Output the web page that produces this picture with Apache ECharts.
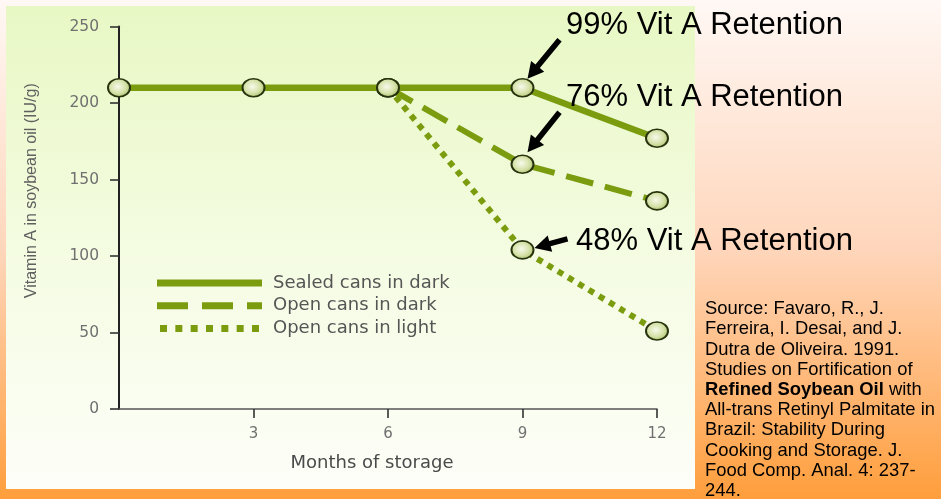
<!DOCTYPE html>
<html>
<head>
<meta charset="utf-8">
<script src="https://cdn.jsdelivr.net/npm/echarts@6/dist/echarts.min.js"></script>
<style>
html,body{margin:0;padding:0;}
#c{width:941px;height:499px;}
</style>
</head>
<body>
<div id="c"></div>
<script>
// ---- data ----
const months = [0, 3, 6, 9, 12];
const sealedDark = [210, 210, 210, 210, 177];
const openDarkMonths = [6, 9, 12];
const openDark = [210, 160, 136];
const openLightMonths = [6, 9, 12];
const openLight = [210, 104, 51];
const seriesNames = ['Sealed cans in dark', 'Open cans in dark', 'Open cans in light'];
const xTicks = [3, 6, 9, 12];
const annotations = ['99% Vit A Retention', '76% Vit A Retention', '48% Vit A Retention'];
const sourceLines = [
  'Source: Favaro, R., J.',
  'Ferreira, I. Desai, and J.',
  'Dutra de Oliveira. 1991.',
  'Studies on Fortification of',
  '{b|Refined Soybean Oil} with',
  'All-trans Retinyl Palmitate in',
  'Brazil: Stability During',
  'Cooking and Storage. J.',
  'Food Comp. Anal. 4: 237-',
  '244.'
];

const GREEN = '#7c9c10';
const markerStyle = {
  color: {
    type: 'radial', x: 0.45, y: 0.45, r: 0.6,
    colorStops: [{offset: 0, color: '#f6f9ea'}, {offset: 0.55, color: '#d6e2aa'}, {offset: 1, color: '#a9bd62'}]
  },
  borderColor: '#27330e',
  borderWidth: 1.8
};

function pairs(xs, ys) { return xs.map((x, i) => [x, ys[i]]); }

const chart = echarts.init(document.getElementById('c'), null, {renderer: 'canvas'});

const dotIcon = 'path://' + [0,1,2,3,4,5,6].map(i => 'M' + (i*15.33).toFixed(2) + ',0h7v7h-7z').join(' ');

const option = {
  animation: false,
  backgroundColor: {
    type: 'linear', x: 0, y: 0, x2: 0, y2: 1,
    colorStops: [
      {offset: 0, color: '#fff8f5'},
      {offset: 0.5, color: '#ffd6bb'},
      {offset: 1, color: '#ff9e3c'}
    ]
  },
  grid: {left: 119, right: 284, top: 26.5, bottom: 90, containLabel: false, outerBoundsMode: 'none'},
  xAxis: {
    type: 'value', min: 0, max: 12, interval: 3,
    name: 'Months of storage', nameLocation: 'middle', nameGap: 45,
    nameTextStyle: {fontFamily: 'DejaVu Sans', fontSize: 18, color: '#4a4a4a', lineHeight: 18, verticalAlign: 'top', padding: [0, 32, 0, 0]},
    axisLine: {show: true, lineStyle: {color: '#555', width: 1.6}},
    axisTick: {show: true, length: 9, customValues: xTicks, lineStyle: {color: '#333', width: 1.6}},
    axisLabel: {customValues: xTicks, margin: 18, fontFamily: 'DejaVu Sans', fontSize: 15, color: '#707070',
      formatter: v => (v === 0 ? '' : String(v))},
    splitLine: {show: false}
  },
  yAxis: {
    type: 'value', min: 0, max: 250, interval: 50,
    name: 'Vitamin A in soybean oil (IU/g)', nameLocation: 'middle', nameGap: 79, nameRotate: 90,
    nameTextStyle: {fontFamily: 'Liberation Sans', fontSize: 16, color: '#606060', padding: [0, 0, 0, 54]},
    axisLine: {show: true, lineStyle: {color: '#222', width: 2}},
    axisTick: {show: true, length: 9, lineStyle: {color: '#333', width: 1.6}},
    axisLabel: {margin: 20, fontFamily: 'DejaVu Sans', fontSize: 15.5, color: '#707070'},
    splitLine: {show: false}
  },
  legend: {
    orient: 'vertical', left: 152, top: 268,
    itemWidth: 105, itemHeight: 7, itemGap: 2.8,
    itemStyle: {color: GREEN, borderWidth: 0},
    textStyle: {fontFamily: 'DejaVu Sans', fontSize: 18, color: '#555', lineHeight: 20, padding: [0, 0, 0, 6]},
    selectedMode: false,
    data: [
      {name: seriesNames[0], icon: 'path://M0,0H105V7H0Z'},
      {name: seriesNames[1], icon: 'path://M0,0H31V7H0Z M45,0H76V7H45Z M90,0H105V7H90Z'},
      {name: seriesNames[2], icon: dotIcon}
    ]
  },
  series: [
    {
      name: seriesNames[1], type: 'line', z: 2,
      data: pairs(openDarkMonths, openDark),
      symbol: 'circle', symbolSize: [22, 18],
      lineStyle: {color: GREEN, width: 6, type: [28, 12], cap: 'butt'},
      itemStyle: markerStyle, color: GREEN
    },
    {
      name: seriesNames[2], type: 'line', z: 2,
      data: pairs(openLightMonths, openLight),
      symbol: 'circle', symbolSize: [22, 18],
      lineStyle: {color: GREEN, width: 6, type: [6, 6], cap: 'butt'},
      itemStyle: markerStyle, color: GREEN
    },
    {
      name: seriesNames[0], type: 'line', z: 3,
      data: pairs(months, sealedDark),
      symbol: 'circle', symbolSize: [22, 18],
      lineStyle: {color: GREEN, width: 6.5, type: 'solid'},
      itemStyle: markerStyle, color: GREEN
    }
  ]
};

chart.setOption(option);

function arrow(tip, tail) {
  const dx = tip[0] - tail[0], dy = tip[1] - tail[1];
  const len = Math.sqrt(dx*dx + dy*dy);
  const ux = dx/len, uy = dy/len, nx = -uy, ny = ux;
  const headLen = 16, headHalf = 8.5, shaftHalf = 2.8;
  const bx = tip[0] - ux*headLen, by = tip[1] - uy*headLen;
  const pts = [
    [tail[0] + nx*shaftHalf, tail[1] + ny*shaftHalf],
    [bx + nx*shaftHalf, by + ny*shaftHalf],
    [bx + nx*headHalf, by + ny*headHalf],
    tip,
    [bx - nx*headHalf, by - ny*headHalf],
    [bx - nx*shaftHalf, by - ny*shaftHalf],
    [tail[0] - nx*shaftHalf, tail[1] - ny*shaftHalf]
  ];
  return {type: 'polygon', z: 100, shape: {points: pts}, style: {fill: '#000'}};
}

const p1 = chart.convertToPixel({gridIndex: 0}, [9, sealedDark[3]]);
const p2 = chart.convertToPixel({gridIndex: 0}, [9, openDark[1]]);
const p3 = chart.convertToPixel({gridIndex: 0}, [9, openLight[1]]);

const annFont = {fontFamily: 'Liberation Sans, Arial, sans-serif', fontSize: 31, fill: '#000', verticalAlign: 'middle', align: 'left'};

chart.setOption({
  graphic: [
    {
      type: 'rect', z: -10, silent: true,
      shape: {x: 6, y: 6, width: 689, height: 483},
      style: {fill: {type: 'linear', x: 0, y: 0, x2: 0, y2: 1,
        colorStops: [{offset: 0, color: '#e8f8c4'}, {offset: 0.55, color: '#f5fce4'}, {offset: 1, color: '#fdfef8'}]}}
    },
    arrow([p1[0] + 5, p1[1] - 9], [p1[0] + 37, p1[1] - 48]),
    arrow([p2[0] + 5, p2[1] - 12], [p2[0] + 37, p2[1] - 52]),
    arrow([p3[0] + 12, p3[1] - 2], [p3[0] + 45, p3[1] - 11]),
    {type: 'text', z: 100, x: 566, y: 25.5, style: Object.assign({text: annotations[0]}, annFont)},
    {type: 'text', z: 100, x: 566, y: 97.5, style: Object.assign({text: annotations[1]}, annFont)},
    {type: 'text', z: 100, x: 576, y: 241, style: Object.assign({text: annotations[2]}, annFont)},
    {
      type: 'text', z: 100, x: 705, y: 299,
      style: {
        text: sourceLines.join('\n'),
        fontFamily: 'Liberation Sans, Arial, sans-serif', fontSize: 18.4, lineHeight: 20.2,
        fill: '#000', align: 'left', verticalAlign: 'top',
        rich: {b: {fontWeight: 'bold', fontFamily: 'Liberation Sans, Arial, sans-serif', fontSize: 18.4, lineHeight: 20.2, fill: '#000'}}
      }
    }
  ]
});
</script>
</body>
</html>
